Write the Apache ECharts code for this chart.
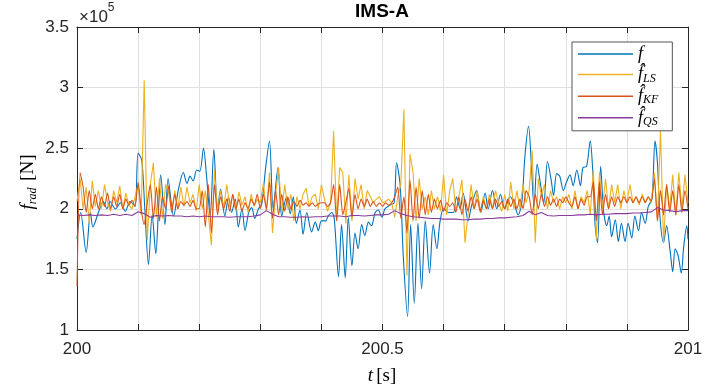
<!DOCTYPE html>
<html><head><meta charset="utf-8">
<script src="https://cdn.jsdelivr.net/npm/echarts@6/dist/echarts.min.js"></script>
<style>html,body{margin:0;padding:0;background:#fff}#c{width:717px;height:391px}</style>
</head><body><div id="c"></div>
<script>
const T0 = 200;
const xLabels = ['200', '200.5', '201'];
const seriesNames = ['f', 'f_LS', 'f_KF', 'f_QS'];

// measured force f (time offset [s], value x1e5 N)
const fTime = [0,.006,.015,.022,.026,.035,.043,.049,.054,.063,
.071,.079,.087,.095,.100,.106,.111,.117,.123,.129,
.133,.137,.144,.149,.158,.166,.174,.180,.185,.190,
.196,.201,.207,.212,.218,.224,.230,.235,.242,.248,
.253,.259,.264,.270,.275,.281,.286,.291,.297,.302,
.309,.315,.321,.329,.335,.343,.349,.354,.359,.365,
.370,.376,.384,.390,.395,.400,.407,.411,.417,.421,
.428,.433,.439,.444,.450,.455,.460,.466,.471,.477,
.482,.488,.493,.499,.504,.512,.519,.523,.529,.534,
.541,.546,.552,.558,.564,.570,.577,.583,.589,.594,
.600,.608,.616,.621,.627,.632,.640,.646,.654,.661,
.668,.673,.680,.687,.693,.700,.709,.715,.722,.728,
.733,.739,.744,.748,.753,.759,.764,.770,.776,.780,
.785,.790,.796,.801,.807,.812,.818,.824,.828,.834,
.840,.844,.848,.852,.857,.862,.867,.871,.875,.881,
.886,.891,.897,.902,.908,.913,.919,.924,.930,.935,
.941,.946,.950,.954,.960,.965,.971,.975,.979,.984,
.989,.993,.998,1.0];
const fVal = [1.75,1.97,1.64,1.97,1.85,1.97,2.06,2.0,2.06,2.0,
2.05,1.98,2.06,2.02,2.46,2.40,2.0,1.54,1.95,1.63,
1.95,2.28,1.87,2.25,1.94,2.16,2.30,2.21,2.27,2.23,
2.32,2.31,2.50,2.27,1.94,2.49,2.0,2.16,1.94,2.10,
1.97,2.08,1.85,2.0,1.82,1.97,2.01,1.92,2.0,2.03,
2.35,2.56,2.0,2.34,1.94,2.10,1.96,2.10,1.88,1.99,
1.79,1.97,1.81,1.89,1.82,1.90,1.90,1.94,1.97,1.92,
1.44,1.87,1.43,1.93,1.53,1.80,1.67,1.87,1.78,1.89,
1.86,1.97,1.99,1.93,2.0,2.03,2.05,2.38,2.19,1.61,
1.11,1.87,1.22,1.88,1.34,1.90,1.47,1.87,1.67,1.89,
2.0,1.97,1.97,2.10,2.0,2.13,1.90,2.03,2.15,1.97,
2.13,2.0,2.15,2.0,2.12,2.0,2.10,2.05,1.95,2.05,
2.43,2.68,2.33,2.02,2.37,2.19,2.05,2.39,2.24,2.11,
2.29,2.27,2.15,2.22,2.28,2.19,2.32,2.19,2.34,2.35,
2.56,2.32,1.86,1.72,2.35,1.97,1.86,1.94,1.77,1.91,
1.73,1.88,1.73,1.88,1.76,1.94,1.82,1.97,1.88,2.02,
2.08,2.56,2.38,1.94,1.72,1.86,1.64,1.48,1.67,1.61,
1.47,1.69,1.86,1.75];

// least-squares estimate, sampled every 0.005 s
const lsStep = 0.005;
const lsVal = [2.06,2.25,2.0,2.18,1.88,2.23,2.02,2.15,2.0,2.2,
2.05,1.98,2.15,2.05,2.19,2.0,2.13,2.03,2.0,2.1,
2.2,1.95,3.06,1.74,2.2,2.38,1.93,2.25,1.92,2.2,
2.13,1.98,2.15,2.0,2.18,2.02,2.18,2.05,2.12,1.98,
2.2,2.0,2.15,1.95,1.70,2.32,1.98,2.15,2.0,2.2,
2.02,2.12,1.98,2.14,2.03,2.1,1.97,2.12,2.02,2.08,
2.05,2.21,1.98,2.3,1.8,2.12,2.34,1.97,2.2,2.0,
2.12,1.9,2.1,2.0,2.12,2.17,2.02,2.1,2.12,2.0,
2.2,2.08,1.98,2.05,2.64,1.9,2.34,2.3,1.88,2.28,
1.9,2.25,2.08,2.2,2.0,2.15,2.1,2.05,2.08,2.1,
2.05,2.06,2.08,2.05,1.93,2.1,2.2,2.82,1.45,2.45,
2.3,1.9,2.25,2.0,2.1,1.95,2.15,2.0,2.1,1.98,
2.28,1.95,2.15,2.25,1.98,2.1,2.24,1.72,1.95,2.2,
2.0,2.15,1.97,2.1,2.0,2.12,2.0,2.15,2.05,1.98,
2.12,1.98,2.22,2.0,2.15,2.0,2.2,2.05,2.15,2.48,
1.72,2.25,2.1,2.2,2.0,2.15,2.05,2.1,2.0,2.1,
2.05,2.12,2.0,2.15,2.0,2.1,2.05,2.15,1.95,2.32,
1.75,2.3,2.0,2.25,2.0,2.2,2.05,2.2,2.0,2.15,
2.05,2.2,2.05,2.1,2.03,2.12,2.05,2.1,2.05,2.3,
1.9,2.65,1.72,2.2,2.0,2.28,1.95,2.3,2.0,2.28,2.05];

// Kalman-filter estimate, sampled every 0.005 s
const kfStep = 0.005;
const kfVal = [1.36,2.3,2.18,1.97,2.15,2.0,2.12,2.0,2.1,2.02,
2.13,2.0,2.1,2.02,2.12,2.0,2.08,2.03,2.07,2.02,
2.22,2.0,1.87,2.05,2.2,1.92,2.18,1.9,2.1,2.0,
2.19,1.97,2.12,2.0,2.06,2.03,2.06,2.02,2.07,2.0,
2.0,2.15,1.85,2.2,1.8,2.2,1.95,2.1,2.0,2.08,
1.98,2.12,2.0,2.08,1.98,2.05,2.0,2.08,2.03,2.12,
2.0,2.12,2.0,2.22,1.92,2.15,1.95,2.12,1.98,2.1,
2.0,2.06,2.02,2.07,2.03,2.05,2.02,2.05,2.02,2.04,
2.05,2.05,2.02,2.05,2.2,1.9,2.2,1.95,2.05,2.17,
1.93,2.12,2.0,2.08,2.02,2.08,2.02,2.06,2.02,2.05,
2.02,2.05,2.03,2.05,2.1,2.18,1.92,2.1,1.8,2.24,
1.9,2.18,1.92,2.15,1.95,2.12,1.97,2.08,2.0,2.07,
1.98,2.05,2.02,2.05,1.97,2.1,1.95,2.08,1.98,2.1,
2.0,2.08,1.98,2.07,2.0,2.08,2.0,2.08,2.02,2.06,
2.0,2.08,2.02,2.08,2.0,2.08,2.0,2.15,2.1,1.95,
2.12,2.0,2.12,2.02,2.1,2.03,2.08,2.02,2.08,2.05,
2.1,2.05,2.02,2.1,2.0,2.08,2.03,2.1,2.1,2.22,
1.9,2.22,1.95,2.12,2.0,2.1,2.02,2.1,2.05,2.1,
2.05,2.1,2.05,2.1,2.05,2.1,2.05,2.1,2.06,2.25,
1.9,2.15,1.95,2.2,1.97,2.15,1.95,2.2,1.97,2.15,2.0];

// quasi-static estimate, sampled every 0.01 s
const qsStep = 0.01;
const qsVal = [1.95,1.945,1.95,1.945,1.95,1.945,1.955,1.945,1.955,1.945,
1.975,1.96,1.93,1.945,1.94,1.945,1.94,1.94,1.935,1.94,
1.935,1.94,1.935,1.935,1.935,1.93,1.935,1.935,1.935,1.94,
1.95,1.985,1.955,1.935,1.935,1.93,1.93,1.935,1.93,1.935,
1.935,1.94,1.94,1.94,1.935,1.945,1.945,1.94,1.945,1.95,
1.95,1.955,1.985,1.96,1.945,1.935,1.93,1.925,1.92,1.92,
1.915,1.915,1.915,1.91,1.91,1.915,1.915,1.92,1.92,1.925,
1.925,1.93,1.935,1.945,1.98,1.95,1.97,1.945,1.94,1.945,
1.945,1.945,1.95,1.95,1.955,1.95,1.955,1.955,1.96,1.96,
1.96,1.965,1.965,1.97,1.975,2.01,1.99,1.985,1.975,1.985,
1.985];

const colors = ['#0072BD', '#EDB120', '#D95319', '#8A3A9C'];
const axisColor = '#262626';
const sans = '"Liberation Sans", Arial, Helvetica, sans-serif';
const serif = '"Liberation Serif", "DejaVu Serif", serif';

const fData = fTime.map((t, i) => [T0 + t, fVal[i]]);
const lsData = lsVal.map((v, i) => [T0 + i * lsStep, v]);
const kfData = kfVal.map((v, i) => [T0 + i * kfStep, v]);
const qsData = qsVal.map((v, i) => [T0 + i * qsStep, v]);

const legendRich = {
  i: {fontFamily: serif, fontStyle: 'italic', fontSize: 18, lineHeight: 20, color: '#000', verticalAlign: 'middle'},
  s: {fontFamily: serif, fontStyle: 'italic', fontSize: 12, lineHeight: 12, color: '#000', verticalAlign: 'bottom'}
};
function legendFmt(name) {
  if (name === 'f') return '{i|f}';
  const sub = name.split('_')[1];
  return '{i|f\u0302}{s|' + sub + '}';
}

const tickBase = {show: true, inside: true, length: 6, lineStyle: {color: axisColor, width: 1}};
const lineBase = {show: true, onZero: false, lineStyle: {color: axisColor, width: 1}};

const option = {
  animation: false,
  backgroundColor: '#fff',
  grid: {left: 77, right: 29, top: 27, bottom: 61, containLabel: false},
  xAxis: [{
    type: 'value', min: 200, max: 201, interval: 0.1, position: 'bottom',
    axisLine: lineBase, axisTick: tickBase,
    axisLabel: {fontSize: 17, color: axisColor, fontFamily: sans, margin: 11, showMinLabel: true, showMaxLabel: true,
      formatter: v => { const s = String(Math.round(v * 10) / 10); return xLabels.includes(s) ? s : ''; }},
    splitLine: {show: true, lineStyle: {color: '#dfdfdf', width: 1}}
  }, {
    type: 'value', min: 200, max: 201, interval: 0.1, position: 'top',
    axisLine: lineBase, axisTick: tickBase, axisLabel: {show: false}, splitLine: {show: false}
  }],
  yAxis: [{
    type: 'value', min: 1, max: 3.5, interval: 0.5, position: 'left',
    axisLine: lineBase, axisTick: tickBase,
    axisLabel: {fontSize: 17, color: axisColor, fontFamily: sans, margin: 8},
    splitLine: {show: true, lineStyle: {color: '#dfdfdf', width: 1}}
  }, {
    type: 'value', min: 1, max: 3.5, interval: 0.5, position: 'right',
    axisLine: lineBase, axisTick: tickBase, axisLabel: {show: false}, splitLine: {show: false}
  }],
  legend: {
    orient: 'vertical', left: 572, top: 42, data: seriesNames,
    icon: 'rect', itemWidth: 55, itemHeight: 1.5, itemGap: 2.6, padding: [3, 14, 3, 6],
    backgroundColor: '#fff', borderColor: '#555', borderWidth: 1, borderRadius: 0,
    textStyle: {rich: legendRich, fontFamily: serif, fontSize: 18},
    formatter: legendFmt
  },
  series: [
    {name: 'f', type: 'line', data: fData, symbol: 'none', smooth: 0.3, lineStyle: {color: colors[0], width: 1.1}, itemStyle: {color: colors[0]}, z: 2},
    {name: 'f_LS', type: 'line', data: lsData, symbol: 'none', lineStyle: {color: colors[1], width: 1.1}, itemStyle: {color: colors[1]}, z: 3},
    {name: 'f_KF', type: 'line', data: kfData, symbol: 'none', smooth: 0.2, lineStyle: {color: colors[2], width: 1.1}, itemStyle: {color: colors[2]}, z: 4},
    {name: 'f_QS', type: 'line', data: qsData, symbol: 'none', lineStyle: {color: colors[3], width: 1.1}, itemStyle: {color: colors[3]}, z: 5}
  ],
  graphic: [
    {type: 'text', x: 382, y: 2, style: {text: 'IMS-A', font: 'bold 19px ' + sans, fill: '#000', align: 'center', verticalAlign: 'top'}},
    {type: 'text', x: 79, y: 14, style: {text: '{a|\u00d710}{b|5}', align: 'left', verticalAlign: 'middle',
      rich: {a: {fontSize: 17, fontFamily: sans, fill: axisColor, color: axisColor, lineHeight: 24, verticalAlign: 'bottom'},
             b: {fontSize: 12, fontFamily: sans, fill: axisColor, color: axisColor, lineHeight: 12, verticalAlign: 'top'}}}},
    {type: 'text', x: 382, y: 376, style: {text: '{i|t} {r|[s]}', align: 'center', verticalAlign: 'middle',
      rich: {i: {fontFamily: serif, fontStyle: 'italic', fontSize: 19, fill: '#000', color: '#000'},
             r: {fontFamily: serif, fontSize: 19, fill: '#000', color: '#000'}}}},
    {type: 'text', x: 28, y: 182, rotation: Math.PI / 2, style: {text: '{i|f}{s|rad}  {r|[N]}', align: 'center', verticalAlign: 'middle',
      rich: {i: {fontFamily: serif, fontStyle: 'italic', fontSize: 19, lineHeight: 22, fill: '#000', color: '#000', verticalAlign: 'middle'},
             s: {fontFamily: serif, fontStyle: 'italic', fontSize: 12, lineHeight: 12, fill: '#000', color: '#000', verticalAlign: 'bottom'},
             r: {fontFamily: serif, fontSize: 19, lineHeight: 22, fill: '#000', color: '#000', verticalAlign: 'middle'}}}}
  ]
};
const chart = echarts.init(document.getElementById('c'), null, {renderer: 'canvas'});
chart.setOption(option);
</script>
</body></html>
